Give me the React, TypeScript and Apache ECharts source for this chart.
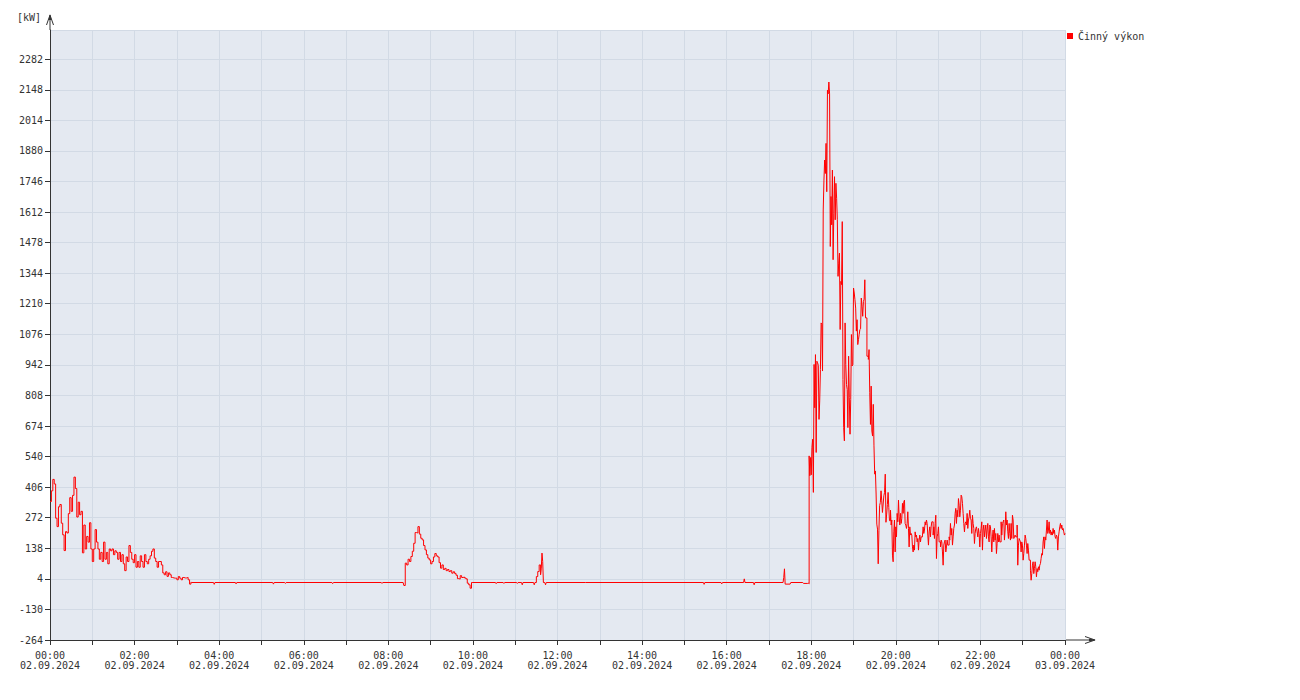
import React, { useEffect, useRef } from "react";
import * as echarts from "echarts";

// ---- data (minutes from 02.09.2024 00:00, values in kW) ----
const SERIES_NAME = "Činný výkon";
const DAY_LABEL = "02.09.2024";
const NEXT_DAY_LABEL = "03.09.2024";
const UNIT_LABEL = "[kW]";

// 00:00 – 03:20, one sample every 2 minutes
const NIGHT_START = 0;
const NIGHT_STEP = 2;
const nightValues = [
  343, 390, 440, 420, 270, 233, 320, 330, 248, 197,
  128, 211, 205, 290, 360, 300, 370, 450, 400, 275,
  340, 285, 300, 118, 240, 135, 190, 165, 250, 135,
  80, 135, 220, 165, 135, 90, 120, 80, 165, 90,
  120, 70, 135, 127, 135, 110, 127, 120, 90, 120,
  80, 110, 70, 40, 100, 80, 150, 120, 90, 75,
  110, 55, 80, 55, 105, 80, 55, 110, 80, 70,
  90, 105, 125, 135, 95, 80, 55, 80, 80, 65,
  30, 22, 35, 15, 30, 22, 10, 8, 7, 7,
  0, 14, 7, 0, 10, 8, 8, 10, 0, -19, -10,
];

// 08:22 – 09:58, one sample every 2 minutes
const MORNING_START = 502;
const MORNING_STEP = 2;
const morningValues = [
  -25, 73, 65, 90, 80, 102, 125, 160, 207, 205,
  233, 200, 182, 175, 150, 131, 110, 95, 87, 70,
  80, 100, 115, 105, 100, 75, 51, 65, 45, 50,
  40, 45, 36, 40, 29, 35, 28, 20, 5, 3,
  18, 10, 12, 8, 4, -15, -22, -37, -12,
];

// quiet periods and the short spikes inside them
const quietMinutes = [
  201, 232, 233, 234, 263, 264, 265, 316, 317, 318, 333, 334, 335, 400, 401, 402, 470, 471, 472, 501,
  600, 632, 633, 634, 643, 644, 645, 662, 663, 664, 669, 670, 671, 686, 687, 688,
  690, 692, 694, 696, 697, 698, 699, 700, 702, 703, 704,
  760, 927, 928, 929, 952, 953, 954, 984, 985, 986, 998, 999, 1000,
  1040, 1041, 1042, 1043, 1050, 1051, 1068, 1069, 1075,
];
const quietValues = [
  -12, -12, -20, -12, -12, -18, -12, -12, -19, -12, -12, -16, -12, -12, -17, -12, -12, -16, -12, -12,
  -12, -12, -17, -12, -12, -16, -12, -12, -16, -12, -12, -22, -12, -12, -22, -12,
  14, 36, 65, 22, 51, 117, 80, -12, -12, -22, -12,
  -12, -12, -20, -12, -12, -18, -12, -12, 4, -12, -12, -22, -12,
  -12, 10, 48, -19, -19, -12, -12, -16, -15,
];

// 17:56 – 19:51, one sample every minute
const PEAK_START = 1076;
const PEAK_STEP = 1;
const peakValues = [
  -18, 543, 456, 536, 460, 580, 616, 383, 944, 754,
  987, 558, 958, 951, 940, 703, 784, 922, 1126, 1119,
  915, 1621, 1752, 1840, 1781, 1913, 1701, 2146, 2130, 2182,
  2130, 1461, 1680, 1556, 1796, 1403, 1607, 1767, 1578, 1738,
  1672, 1578, 1330, 1388, 1432, 1097, 1308, 1294, 1570, 878,
  667, 609, 1126, 944, 856, 834, 667, 980, 798, 638,
  791, 1075, 937, 944, 1279, 1257, 1228, 1191, 1090, 1140,
  1031, 1053, 1075, 1097, 1100, 1235, 1199, 1155, 1220, 1230,
  1315, 1148, 1148, 980, 980, 966, 1009, 820, 681, 849,
  652, 630, 769, 587, 463, 477, 376, 244, 222, 70,
  215, 325, 339, 390, 346, 295, 332, 368, 383, 463,
  252, 288, 330, 383, 317, 259,
];

// 19:52 – 24:00, one sample every ~57 s
const EVENING_START = 1192.4;
const EVENING_STEP = 0.9456;
const eveningValues = [
  305, 240, 262, 108, 79, 210, 262, 122, 232, 188, 291, 254,
  349, 276, 240, 291, 247, 269, 335, 291, 342, 349,
  247, 240, 225, 247, 298, 225, 144, 232, 196, 203,
  196, 144, 122, 152, 130, 210, 188, 196, 166, 181,
  130, 174, 196, 166, 188, 188, 196, 232, 203, 218,
  254, 240, 262, 247, 196, 152, 210, 232, 188, 232,
  254, 254, 196, 232, 181, 247, 283, 93, 188, 203,
  232, 166, 166, 144, 174, 166, 122, 64, 152, 166,
  174, 122, 144, 174, 152, 152, 188, 174, 247, 196,
  225, 152, 188, 225, 240, 291, 313, 247, 305, 276,
  356, 327, 276, 305, 371, 364, 335, 291, 247, 210,
  247, 254, 240, 291, 225, 262, 276, 305, 269, 262,
  203, 283, 247, 225, 159, 203, 225, 232, 210, 188,
  225, 203, 144, 203, 225, 254, 130, 218, 240, 188,
  218, 240, 181, 218, 247, 188, 166, 240, 232, 188,
  122, 188, 218, 166, 225, 174, 203, 115, 159, 203,
  166, 196, 166, 166, 254, 196, 247, 254, 262, 174,
  218, 298, 240, 262, 210, 181, 247, 203, 174, 247,
  181, 283, 262, 181, 188, 196, 188, 188, 240, 64,
  152, 181, 174, 166, 122, 166, 152, 86, 115, 152,
  196, 181, 152, 115, 159, 130, 86, 86, 42, -2,
  27, 64, 79, 27, 49, 79, 57, 13, 49, 35,
  57, 42, 64, 71, 93, 115, 108, 166, 188, 137,
  188, 174, 218, 262, 203, 218, 254, 203, 218, 196,
  210, 196, 225, 203, 218, 188, 181, 196, 188, 130,
  188, 210, 232, 247, 225, 240, 218, 225, 210, 196, 203,
];

// axes
const X_MIN = 0;
const X_MAX = 1440;
const X_TICK = 60;
const X_LABEL_EVERY = 120;
const Y_MIN = -264;
const Y_MAX = 2410;
const Y_TICK = 134;

function segment(start: number, step: number, values: number[]): number[][] {
  return values.map((v, i) => [start + i * step, v]);
}

function buildData(): number[][] {
  const pts: number[][] = [
    ...segment(NIGHT_START, NIGHT_STEP, nightValues),
    ...quietMinutes.map((m, i) => [m, quietValues[i]]),
    ...segment(MORNING_START, MORNING_STEP, morningValues),
    ...segment(PEAK_START, PEAK_STEP, peakValues),
    ...segment(EVENING_START, EVENING_STEP, eveningValues),
  ];
  pts.sort((a, b) => a[0] - b[0]);
  return pts;
}

function xLabel(v: number): string {
  if (Math.round(v) % X_LABEL_EVERY !== 0) return "";
  const h = Math.round(v / 60) % 24;
  const hh = (h < 10 ? "0" : "") + h + ":00";
  return hh + "\n" + (v >= 1440 ? NEXT_DAY_LABEL : DAY_LABEL);
}

const FONT = "DejaVu Sans Mono";
const TEXT_COLOR = "#333333";
const AXIS_COLOR = "#333333";

export default function App() {
  const ref = useRef<HTMLDivElement>(null);

  useEffect(() => {
    if (!ref.current) return;
    const chart = echarts.init(ref.current, undefined, { renderer: "svg" });
    const option: any = {
      animation: false,
      backgroundColor: "#ffffff",
      textStyle: { fontFamily: FONT, fontSize: 10, color: TEXT_COLOR },
      grid: {
        left: 50,
        top: 30,
        width: 1015,
        height: 610,
        show: true,
        backgroundColor: "#e4e9f1",
        borderWidth: 0,
      },
      legend: {
        show: true,
        left: 1067,
        top: 31,
        padding: 0,
        itemWidth: 6,
        itemHeight: 6,
        icon: "rect",
        textStyle: { fontFamily: FONT, fontSize: 10, color: TEXT_COLOR },
        data: [SERIES_NAME],
      },
      xAxis: {
        type: "value",
        min: X_MIN,
        max: X_MAX,
        interval: X_TICK,
        axisLine: { show: true, onZero: false, lineStyle: { color: AXIS_COLOR, width: 1 } },
        axisTick: { show: true, length: 5, lineStyle: { color: AXIS_COLOR } },
        axisLabel: {
          formatter: xLabel,
          fontFamily: FONT,
          fontSize: 10,
          lineHeight: 10,
          color: TEXT_COLOR,
          margin: 10,
          showMinLabel: true,
          showMaxLabel: true,
        },
        splitLine: { show: true, lineStyle: { color: "#d2dae5", width: 1 } },
      },
      yAxis: {
        type: "value",
        min: Y_MIN,
        max: Y_MAX,
        interval: Y_TICK,
        axisLine: { show: true, onZero: false, lineStyle: { color: AXIS_COLOR, width: 1 } },
        axisTick: { show: true, length: 5, lineStyle: { color: AXIS_COLOR } },
        axisLabel: {
          formatter: (v: number) => String(v),
          fontFamily: FONT,
          fontSize: 10,
          color: TEXT_COLOR,
          margin: 7,
          showMaxLabel: false,
        },
        splitLine: { show: true, lineStyle: { color: "#d2dae5", width: 1 } },
      },
      graphic: [
        { type: "line", shape: { x1: 1065, y1: 640, x2: 1094, y2: 640 }, style: { stroke: AXIS_COLOR, lineWidth: 1 } },
        { type: "polyline", shape: { points: [[1085, 636.5], [1095, 640], [1085, 643.5]] }, style: { stroke: AXIS_COLOR, lineWidth: 1, fill: "none" } },
        { type: "polygon", shape: { points: [[1089, 638.5], [1096, 640], [1089, 641.5]] }, style: { fill: AXIS_COLOR } },
        { type: "line", shape: { x1: 50, y1: 30, x2: 50, y2: 16 }, style: { stroke: AXIS_COLOR, lineWidth: 1 } },
        { type: "polyline", shape: { points: [[46.5, 25], [50, 15], [53.5, 25]] }, style: { stroke: AXIS_COLOR, lineWidth: 1, fill: "none" } },
        { type: "polygon", shape: { points: [[48.5, 20], [50, 14], [51.5, 20]] }, style: { fill: AXIS_COLOR } },
        {
          type: "text",
          x: 41,
          y: 17,
          style: { text: UNIT_LABEL, align: "right", verticalAlign: "middle", font: `10px '${FONT}'`, fill: TEXT_COLOR },
        },
      ],
      series: [
        {
          name: SERIES_NAME,
          type: "line",
          step: "end",
          showSymbol: false,
          symbol: "none",
          color: "#ff0000",
          lineStyle: { color: "#ff0000", width: 1 },
          data: buildData(),
          clip: true,
        },
      ],
    };
    chart.setOption(option);
    return () => chart.dispose();
  }, []);

  return (
    <div
      ref={ref}
      style={{ position: "fixed", left: 0, top: 0, width: 1300, height: 700 }}
    />
  );
}
